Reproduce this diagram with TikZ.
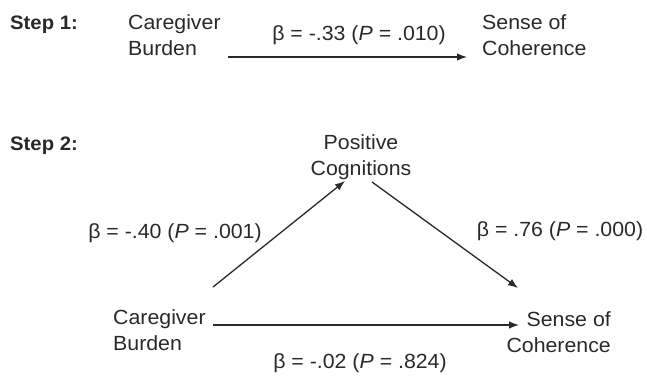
\documentclass[tikz,border=0pt]{standalone}
\usepackage{fontspec}
\setmainfont[FakeStretch=1.04]{Liberation Sans}
\usetikzlibrary{arrows.meta}
\definecolor{ink}{gray}{0.16}
\begin{document}
\begin{tikzpicture}[x=1pt,y=-1pt,
  lbl/.style={font=\fontsize{20.5}{26}\selectfont, inner sep=0pt, text=ink},
  coef/.style={font=\fontsize{20.5}{26}\selectfont, inner sep=0pt, text=ink, anchor=base},
  steplbl/.style={font=\fontsize{19.5}{22}\selectfont\bfseries, inner sep=0pt, anchor=base west, text=ink},
  arr/.style={line width=1.3pt, draw=ink, -{Latex[length=10pt,width=7.5pt]}}]
\useasboundingbox (0,0) rectangle (647,375);
% Step 1
\node[steplbl] (s1) at (10,29) {Step 1:};
\node[lbl, align=left, anchor=north west] (cb1) at (128,14) {Caregiver\\Burden};
\node[lbl, align=left, anchor=north west] (sc1) at (482,14) {Sense of\\Coherence};
\coordinate (a1s) at (228,57);
\coordinate (a1e) at (467,57);
\draw[arr] (a1s) -- (a1e);
\node[coef] (b1) at (359,40) {β = -.33 (\textit{P} = .010)};
% Step 2
\node[steplbl] (s2) at (10,150) {Step 2:};
\node[lbl, align=center, anchor=north] (pc) at (361,134) {Positive\\Cognitions};
\node[lbl, align=left, anchor=north west] (cb2) at (113,309) {Caregiver\\Burden};
\node[lbl, align=right, anchor=north east] (sc2) at (611,311) {Sense of\\Coherence};
\coordinate (a2s) at (213,287);
\coordinate (a2e) at (345,181);
\coordinate (a3s) at (372,182);
\coordinate (a3e) at (518,288);
\coordinate (a4s) at (213,325);
\coordinate (a4e) at (519,325);
\draw[arr] (a2s) -- (a2e);
\draw[arr] (a3s) -- (a3e);
\draw[arr] (a4s) -- (a4e);
\node[coef] (b2) at (175,238) {β = -.40 (\textit{P} = .001)};
\node[coef] (b3) at (560,236) {β = .76 (\textit{P} = .000)};
\node[coef] (b4) at (360,368) {β = -.02 (\textit{P} = .824)};
\end{tikzpicture}
\end{document}
